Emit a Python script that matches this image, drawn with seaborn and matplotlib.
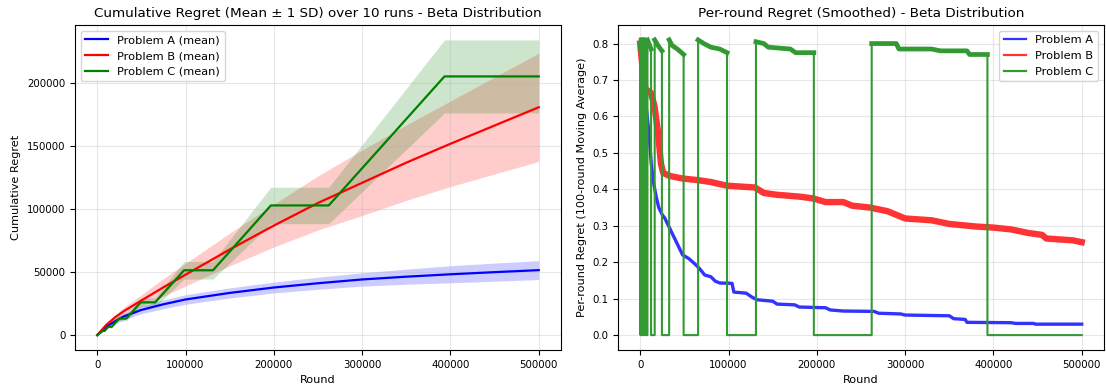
import numpy as np
import pandas as pd
import matplotlib
matplotlib.use("Agg")
import matplotlib.pyplot as plt
import seaborn as sns

# ---- left panel: cumulative regret, mean and 1 SD over 10 runs ----
cum_rounds_ab = [0, 10000, 20000, 30000, 50000, 75000, 100000, 150000, 200000,
                 250000, 300000, 350000, 400000, 450000, 500000]
cum_a_mean = [0, 6500, 11000, 14800, 20000, 24500, 28300, 33500, 37800,
              41200, 44200, 46400, 48300, 50000, 51600]
cum_a_sd = [0, 1000, 2000, 2500, 3000, 3500, 3800, 4000, 4300,
            4800, 5300, 6000, 6800, 7200, 7500]
cum_b_mean = [0, 8000, 14000, 19000, 27500, 38000, 48000, 68000, 87000,
              105000, 121000, 137000, 152000, 166500, 181000]
cum_b_sd = [0, 1000, 2000, 3000, 4500, 7000, 9000, 13000, 17000,
            21500, 26000, 30000, 34000, 38500, 43000]

cum_rounds_c = [0, 6144, 8192, 12288, 16384, 24576, 32768, 49152, 65536,
                98304, 131072, 196608, 262144, 393216, 500000]
cum_c_mean = [0, 3300, 3300, 6600, 6600, 13100, 13100, 26000, 26000,
              51500, 51500, 103000, 103000, 205500, 205500]
cum_c_sd = [0, 500, 500, 1000, 1000, 1900, 1900, 3500, 3500,
            7000, 7000, 14500, 14500, 29000, 29000]

# ---- right panel: per-round regret, 100-round moving average ----
a_rounds = [0, 2000, 5000, 8000, 10000, 12500, 15000, 18000, 21000, 25000, 28000,
            32000, 36000, 40000, 44000, 48000, 55000, 62000, 68000, 73000, 80000,
            85000, 90000, 104000, 106000, 120000, 126000, 132000, 150000, 155000,
            175000, 180000, 210000, 215000, 230000, 265000, 270000, 295000, 300000,
            350000, 355000, 368000, 370000, 420000, 425000, 445000, 448000, 500000]
a_regret = [0.80, 0.75, 0.66, 0.60, 0.55, 0.47, 0.42, 0.38, 0.35, 0.33, 0.32,
            0.30, 0.28, 0.26, 0.24, 0.22, 0.21, 0.195, 0.18, 0.165, 0.16,
            0.148, 0.143, 0.142, 0.118, 0.115, 0.105, 0.097, 0.093, 0.085,
            0.083, 0.077, 0.075, 0.069, 0.066, 0.065, 0.060, 0.058, 0.055,
            0.053, 0.045, 0.043, 0.035, 0.034, 0.032, 0.032, 0.030, 0.030]

b_rounds = [0, 3000, 6000, 12000, 16000, 20000, 23500, 26000, 33000, 47000, 66000,
            80000, 98000, 130000, 140000, 155000, 180000, 196000, 210000, 230000,
            240000, 260000, 280000, 290000, 300000, 330000, 350000, 380000, 400000,
            420000, 440000, 455000, 460000, 490000, 500000]
b_regret = [0.80, 0.72, 0.675, 0.665, 0.63, 0.56, 0.47, 0.445, 0.437, 0.43, 0.425,
            0.42, 0.41, 0.405, 0.39, 0.385, 0.38, 0.375, 0.365, 0.365,
            0.355, 0.35, 0.34, 0.33, 0.32, 0.315, 0.305, 0.298, 0.295,
            0.29, 0.28, 0.275, 0.265, 0.26, 0.255]

c_rounds = [0, 256, 256, 512, 512, 768, 768, 1024, 1024, 1536, 1536, 2048, 2048,
            3072, 3072, 4096, 4096, 6144, 6144, 8192, 8192, 12288, 12288, 16384,
            16384, 20000, 24576, 24576, 32768, 32768, 36000, 42000, 49152, 49152,
            65536, 65536, 72000, 80000, 90000, 98304, 98304, 131072, 131072,
            140000, 145000, 170000, 176000, 196608, 196608, 262144, 262144,
            290000, 293000, 330000, 340000, 370000, 373000, 393216, 393216, 500000]
c_regret = [0.80, 0.79, 0, 0, 0.80, 0.78, 0, 0, 0.81, 0.79, 0, 0, 0.81,
            0.78, 0, 0, 0.81, 0.78, 0, 0, 0.81, 0.785, 0, 0,
            0.81, 0.795, 0.78, 0, 0, 0.81, 0.795, 0.785, 0.77, 0,
            0, 0.81, 0.80, 0.79, 0.785, 0.775, 0, 0, 0.805,
            0.80, 0.79, 0.785, 0.775, 0.775, 0, 0, 0.80,
            0.80, 0.785, 0.785, 0.78, 0.78, 0.77, 0.77, 0, 0]

labels = ["Problem A", "Problem B", "Problem C"]

plt.rcParams["xtick.labelsize"] = 7.4
plt.rcParams["ytick.labelsize"] = 7.4
plt.rcParams["axes.labelsize"] = 8.1
plt.rcParams["legend.fontsize"] = 8.2

fig, (ax1, ax2) = plt.subplots(1, 2, figsize=(11.06, 3.87), dpi=100)
fig.subplots_adjust(left=0.068, right=0.998, bottom=0.096, top=0.935, wspace=0.118)

# left: mean lines with +-1 SD bands
left_sets = [
    (cum_rounds_ab, cum_a_mean, cum_a_sd, "blue"),
    (cum_rounds_ab, cum_b_mean, cum_b_sd, "red"),
    (cum_rounds_c, cum_c_mean, cum_c_sd, "green"),
]
for (x, m, s, col), lab in zip(left_sets, labels):
    m = np.array(m)
    s = np.array(s)
    sns.lineplot(x=x, y=m, ax=ax1, color=col, linewidth=1.6, label=lab + " (mean)",
                 estimator=None, sort=False)
    ax1.fill_between(x, m - s, m + s, color=col, alpha=0.2, linewidth=0)

ax1.set_title("Cumulative Regret (Mean \u00b1 1 SD) over 10 runs - Beta Distribution", fontsize=9.7)
ax1.set_xlabel("Round")
ax1.set_ylabel("Cumulative Regret")
ax1.set_xticks([0, 100000, 200000, 300000, 400000, 500000])
ax1.grid(True, alpha=0.3)
ax1.legend(loc="upper left")

# right: smoothed per-round regret (noisy curves drawn as thick strokes)
col_a, col_b, col_c = "#3333ff", "#ff3333", "#339933"
sns.lineplot(x=a_rounds, y=a_regret, ax=ax2, color=col_a, linewidth=2.4,
             label=labels[0], estimator=None, sort=False)
sns.lineplot(x=b_rounds, y=b_regret, ax=ax2, color=col_b, linewidth=4.6,
             label=labels[1], estimator=None, sort=False)
sns.lineplot(x=c_rounds, y=c_regret, ax=ax2, color=col_c, linewidth=1.5,
             label=labels[2], estimator=None, sort=False)

# the "on" stretches of problem C are noisy, so draw them thicker
c_df = pd.DataFrame({"round": c_rounds, "regret": c_regret})
c_df["seg"] = (c_df["regret"] < 0.5).cumsum()
c_hi = c_df[c_df["regret"] > 0.5]
sns.lineplot(data=c_hi, x="round", y="regret", units="seg", estimator=None,
             sort=False, ax=ax2, color=col_c, linewidth=3.4, legend=False)

ax2.set_title("Per-round Regret (Smoothed) - Beta Distribution", fontsize=9.7)
ax2.set_xlabel("Round")
ax2.set_ylabel("Per-round Regret (100-round Moving Average)")
ax2.set_xticks([0, 100000, 200000, 300000, 400000, 500000])
ax2.set_yticks(np.arange(0, 0.81, 0.1))
ax2.grid(True, alpha=0.3)
leg = ax2.legend(loc="upper right")
for line in leg.get_lines():
    line.set_linewidth(1.6)

plt.savefig("out.png", dpi=100)
